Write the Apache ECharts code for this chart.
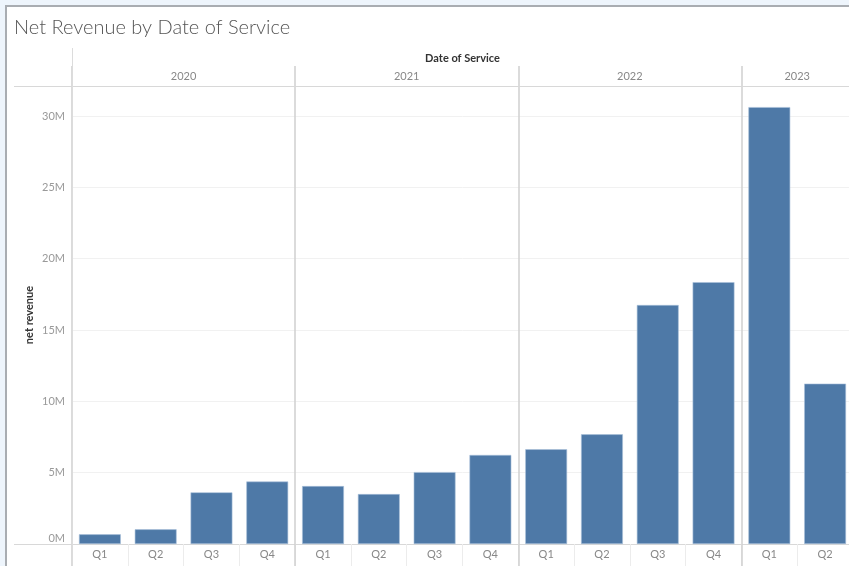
<!DOCTYPE html>
<html>
<head>
<meta charset="utf-8">
<script src="https://cdn.jsdelivr.net/npm/echarts@6/dist/echarts.min.js"></script>
<style>
  html, body { margin: 0; padding: 0; width: 849px; height: 566px; overflow: hidden; background: #eef5fc; }
  #frame { position: absolute; left: 5px; top: 5px; width: 844px; height: 561px; background: #fff;
           border-left: 2px solid #a9adb2; border-top: 2px solid #a9adb2; box-sizing: border-box; }
  /* the view runs a few pixels past the window's right edge */
  #chart { position: absolute; left: 0; top: 0; width: 856px; height: 566px; }
</style>
</head>
<body>
<div id="frame"></div>
<div id="chart"></div>
<script>
// Quarterly net revenue, in dollars
const years = ['2020', '2021', '2022', '2023'];
const quartersPerYear = [4, 4, 4, 2];
const quarters = ['Q1', 'Q2', 'Q3', 'Q4', 'Q1', 'Q2', 'Q3', 'Q4', 'Q1', 'Q2', 'Q3', 'Q4', 'Q1', 'Q2'];
const netRevenue = [
  0.68e6, 1.03e6, 3.62e6, 4.38e6,
  4.06e6, 3.50e6, 5.04e6, 6.24e6,
  6.64e6, 7.69e6, 16.75e6, 18.35e6,
  30.62e6, 11.24e6
];
const yTicks = [0, 5e6, 10e6, 15e6, 20e6, 25e6, 30e6];

// Position of each year label: middle of its run of quarters
const yearCenters = {};
let start = 0;
years.forEach((y, i) => {
  yearCenters[start + quartersPerYear[i] / 2] = y;
  start += quartersPerYear[i];
});
const nCats = quarters.length;

const font = 'Lato, "Open Sans", sans-serif';
const G = { left: 72, top: 86, right: 0, bottom: 22 };
const chart = echarts.init(document.getElementById('chart'), null, { renderer: 'canvas' });

chart.setOption({
  animation: false,
  backgroundColor: 'transparent',
  textStyle: { fontFamily: font },
  title: {
    text: 'Net Revenue by Date of Service',
    left: 9, top: 13,
    textStyle: { fontSize: 20, fontWeight: 300, color: '#555', fontFamily: font }
  },
  grid: G,
  xAxis: [
    {
      type: 'category', position: 'bottom', data: quarters,
      axisLine: { onZero: false, lineStyle: { color: '#d8d8d8', width: 1 } },
      axisTick: { show: true, alignWithLabel: false, length: 22, lineStyle: { color: '#ececec' } },
      axisLabel: { color: '#888', fontSize: 11, margin: 5, fontFamily: font },
      splitLine: { show: false }
    },
    {
      // year labels along the header
      type: 'value', position: 'top', min: 0, max: nCats, interval: 1,
      axisLine: { show: false, onZero: false }, axisTick: { show: false },
      splitLine: { show: false },
      axisLabel: {
        color: '#888', fontSize: 11, margin: 4, fontFamily: font,
        showMinLabel: true, showMaxLabel: true,
        formatter: v => yearCenters[v] || ''
      },
      name: 'Date of Service', nameLocation: 'middle', nameGap: 22,
      nameTextStyle: { color: '#333', fontSize: 11, fontWeight: 'bold', fontFamily: font }
    },
    {
      // year separators through header and plot
      type: 'value', position: 'top', min: 0, max: nCats, interval: 4,
      axisLine: { show: false, onZero: false },
      axisTick: { show: true, length: 20, lineStyle: { color: '#cfcfcf', width: 1.5 } },
      axisLabel: { show: false },
      splitLine: { show: true, lineStyle: { color: '#cfcfcf', width: 1.5 } }
    },
    {
      // year separators below the axis
      type: 'value', position: 'bottom', min: 0, max: nCats, interval: 4,
      axisLine: { show: false, onZero: false },
      axisTick: { show: true, length: 22, lineStyle: { color: '#cfcfcf', width: 1.5 } },
      axisLabel: { show: false },
      splitLine: { show: false }
    }
  ],
  yAxis: {
    type: 'value', min: 0, max: 32.1e6, interval: 5e6,
    axisLine: { show: true, lineStyle: { color: '#dcdcdc' } },
    axisTick: { show: false },
    axisLabel: {
      color: '#999', fontSize: 11, margin: 7, fontFamily: font, showMaxLabel: false,
      verticalAlignMinLabel: 'bottom',
      formatter: v => (yTicks.indexOf(v) >= 0 ? (v / 1e6) + 'M' : '')
    },
    splitLine: { lineStyle: { color: '#f1f1f1' } },
    name: 'net revenue', nameLocation: 'middle', nameRotate: 90, nameGap: 37,
    nameMoveOverlap: false,
    nameTextStyle: { color: '#333', fontSize: 11, fontWeight: 'bold', fontFamily: font }
  },
  series: [{
    type: 'bar', xAxisIndex: 0, yAxisIndex: 0,
    data: netRevenue,
    barCategoryGap: '25%',
    itemStyle: { color: '#4e79a7', borderColor: '#a9c1da', borderWidth: 0.6 }
  }],
  graphic: [
    // row/column header rules extending left of the plot
    { type: 'line', silent: true, shape: { x1: 14, y1: G.top + 0.5, x2: 856, y2: G.top + 0.5 },
      style: { stroke: '#d8d8d8', lineWidth: 1 }, z: 5 },
    { type: 'line', silent: true, shape: { x1: 14, y1: 544.5, x2: G.left, y2: 544.5 },
      style: { stroke: '#d8d8d8', lineWidth: 1 }, z: 5 },
    { type: 'line', silent: true, shape: { x1: G.left + 0.5, y1: 48, x2: G.left + 0.5, y2: 566 },
      style: { stroke: '#dcdcdc', lineWidth: 1 }, z: 5 }
  ]
});
</script>
</body>
</html>
